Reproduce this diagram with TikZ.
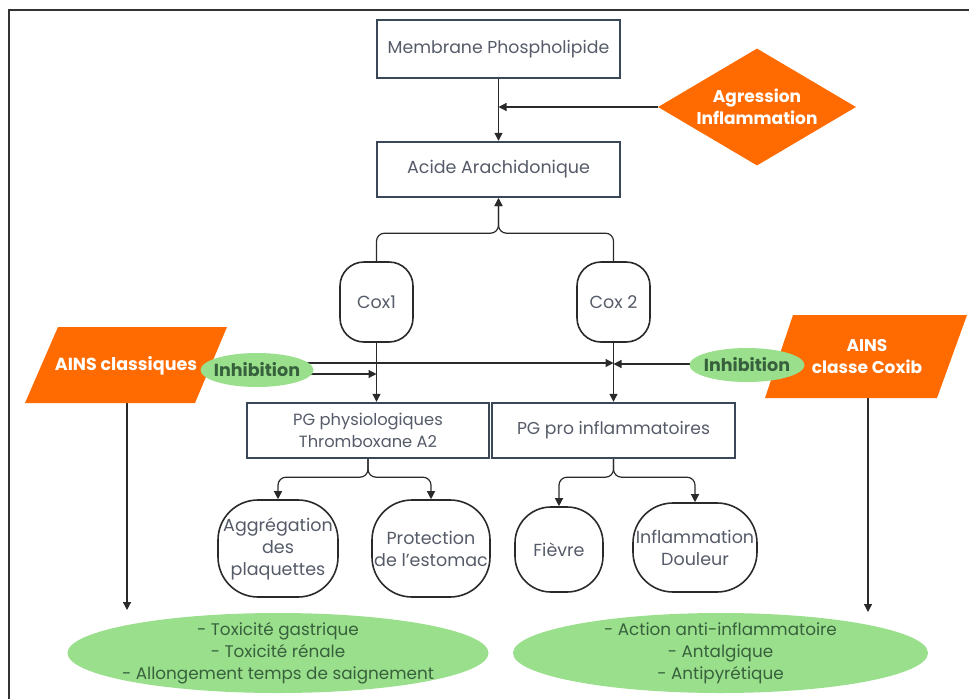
\documentclass[tikz,border=0pt]{standalone}
\usepackage{fontspec}
\setmainfont{Poppins}
\usetikzlibrary{shapes.geometric,arrows.meta,backgrounds,calc}
\definecolor{orng}{HTML}{FF6B00}
\definecolor{lgreen}{HTML}{9ADF8C}
\definecolor{dgreen}{HTML}{37613C}
\definecolor{boxline}{HTML}{3A4756}
\definecolor{boxtext}{HTML}{555B68}
\definecolor{conn}{HTML}{2A2A2A}
\newcommand{\fsz}[1]{\fontsize{#1}{22}\selectfont}
\begin{document}
\begin{tikzpicture}[x=1pt,y=-1pt,
  font=\fsz{17},
  rbox/.style={draw=boxline, line width=2.4pt, fill=white, text=boxtext, align=center, inner sep=0pt},
  pill/.style={draw=conn, line width=1.6pt, fill=white, text=boxtext, align=center, inner sep=0pt, rounded corners=#1, font=\fsz{17.5}},
  gell/.style={ellipse, fill=lgreen, inner sep=0pt},
  gtext/.style={text=dgreen, align=center, font=\fsz{16.8}},
  btext/.style={text=white, align=center, font=\bfseries\fsz{17}},
  arr/.style={draw=conn, line width=1.2pt, -{Triangle[width=8pt,length=8pt]}}
]
\useasboundingbox (0,0) rectangle (969,699);
% frame
\draw[line width=2pt, black!80] (9,699) -- (9,10) -- (969,10);

% parallelograms
\fill[orng] (58,327) -- (227,327) -- (195,403) -- (25,403) -- cycle;
\node[btext, font=\bfseries\fsz{17.5}] (ainsc) at (126,366) {AINS classiques};
\fill[orng] (793,315) -- (967,315) -- (937,398) -- (765,398) -- cycle;
\node[btext, font=\bfseries\fsz{17}] (ainsx) at (867,357) {AINS\\classe Coxib};

% boxes
\node[rbox, minimum width=243pt, minimum height=58pt, font=\fsz{17.3}] (mem) at (498.5,49) {Membrane Phospholipide};
\node[rbox, minimum width=243pt, minimum height=55pt, font=\fsz{17.5}] (acide) at (498.5,169.5) {Acide Arachidonique};
\node[diamond, fill=orng, minimum width=198pt, minimum height=117pt, inner sep=0pt,
      label={[btext]center:Agression\\Inflammation}] (agr) at (757,107) {};

\node[pill=24pt, minimum width=73pt, minimum height=80pt] (cox1) at (376.5,302) {Cox1};
\node[pill=24pt, minimum width=73pt, minimum height=80pt] (cox2) at (613.5,302) {Cox 2};

\node[rbox, minimum width=242pt, minimum height=55pt, font=\fsz{16.3}] (pgphys) at (368,430.5) {PG physiologiques\\Thromboxane A2};
\node[rbox, minimum width=243pt, minimum height=55pt, font=\fsz{17.2}] (pgpro) at (613.5,430.5) {PG pro inflammatoires};

\node[gell, minimum width=113pt, minimum height=34pt, label={[gtext, font=\bfseries\fsz{17.5}]center:Inhibition}] (inh1) at (257,370) {};
\node[gell, minimum width=115pt, minimum height=34pt, label={[gtext, font=\bfseries\fsz{17.5}]center:Inhibition}] (inh2) at (747,365) {};

\node[pill=40pt, minimum width=120pt, minimum height=97pt] (aggr) at (278,548.5) {Aggrégation\\des\\plaquettes};
\node[pill=40pt, minimum width=118pt, minimum height=97pt] (prot) at (431,548.5) {Protection\\de l'estomac};
\node[pill=36pt, minimum width=88pt, minimum height=85pt] (fievre) at (559,549.5) {Fièvre};
\node[pill=40pt, minimum width=124pt, minimum height=89pt] (infl) at (695,547.5) {Inflammation\\Douleur};

\node[gell, minimum width=421pt, minimum height=80pt,
      label={[gtext]center:- Toxicité gastrique\\- Toxicité rénale\\- Allongement temps de saignement}] (gl) at (278,653) {};
\node[gell, minimum width=415pt, minimum height=80pt,
      label={[gtext]center:- Action anti-inflammatoire\\- Antalgique\\- Antipyrétique}] (gr) at (720.5,653) {};

\coordinate (yu) at (0,363);
\coordinate (yr) at (0,364);
\coordinate (yl) at (0,374);
\coordinate (t1) at (127,610);
\coordinate (t2) at (868,612);

\begin{pgfonlayer}{background}
\draw[arr] (mem.south) -- (acide.north);
\draw[arr] (agr.west) -- (mem.south |- agr.west);
\draw[arr, rounded corners=8pt] (cox1.north) |- ($(acide.south)+(0,35)$) -- (acide.south);
\draw[arr, rounded corners=8pt] (cox2.north) |- ($(acide.south)+(0,35)$) -- (acide.south);
\draw[arr] (cox1.south) -- (cox1.south |- pgphys.north);
\draw[arr] (cox2.south) -- (cox2.south |- pgpro.north);
\draw[arr] (inh1.center |- yu) -- (cox2.center |- yu);
\draw[arr] (inh1.center |- yl) -- (cox1.center |- yl);
\draw[arr] (inh2.center |- yr) -- (cox2.center |- yr);
\draw[arr] (t1 |- ainsc.center) -- (t1);
\draw[arr] (t2 |- ainsx.center) -- (t2);
\draw[arr, rounded corners=8pt] (pgphys.south) -- ++(0,18) -| (aggr.north);
\draw[arr, rounded corners=8pt] (pgphys.south) -- ++(0,18) -| (prot.north);
\draw[arr, rounded corners=8pt] (pgpro.south) -- ++(0,18) -| (fievre.north);
\draw[arr, rounded corners=8pt] (pgpro.south) -- ++(0,18) -| (infl.north);
\end{pgfonlayer}
\end{tikzpicture}
\end{document}
